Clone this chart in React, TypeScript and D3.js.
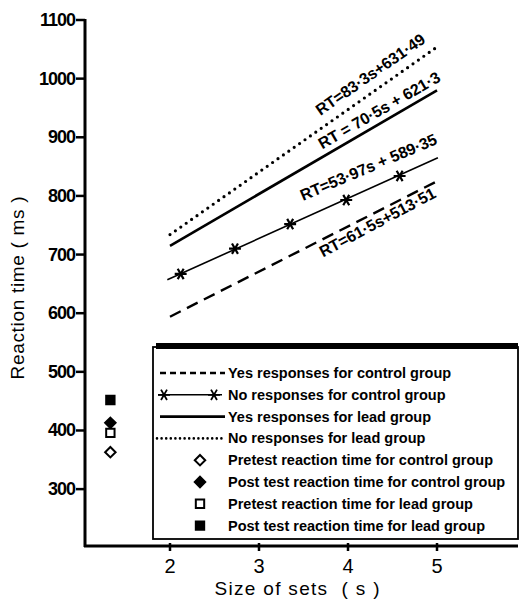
import * as d3 from 'd3';

// values (set size s, reaction time ms)
const xTicks = [2, 3, 4, 5];
const yTicks = [300, 400, 500, 600, 700, 800, 900, 1000, 1100];

const yesControl: [number, number][] = [[2, 594], [5, 825]];
const noControlLine: [number, number][] = [[1.97, 657], [5.01, 865]];
const noControlStars: [number, number][] = [[2.12, 667], [2.73, 710], [3.35, 752], [3.98, 793], [4.58, 834]];
const yesLead: [number, number][] = [[2, 715], [5, 980]];
const noLead: [number, number][] = [[2, 734], [5, 1054]];

const pretestS = 1.33;
const pretestControl = 363;
const posttestControl = 413;
const pretestLead = 396;
const posttestLead = 452;

const equations = [
  { text: 'RT=83·3s+631·49', s: 4.25, rt: 1007, angle: -35 },
  { text: 'RT = 70·5s + 621·3', s: 4.35, rt: 946, angle: -30 },
  { text: 'RT=53·97s + 589·35', s: 4.23, rt: 849, angle: -23 },
  { text: 'RT=61·5s+513·51', s: 4.33, rt: 755, angle: -28 },
];

const legendLabels = [
  'Yes responses for control group',
  'No responses for control group',
  'Yes responses for lead group',
  'No responses for lead group',
  'Pretest reaction time for control group',
  'Post test reaction time for control group',
  'Pretest reaction time for lead group',
  'Post test reaction time for lead group',
];

const FONT = '"Liberation Sans", Arial, sans-serif';

export default function App() {
  const width = 529;
  const height = 600;

  const x = d3.scaleLinear().domain([1.045, 5.91]).range([85, 518]);
  const y = d3.scaleLinear().domain([203, 1100]).range([546, 20]);

  const line = d3
    .line<[number, number]>()
    .x((d) => x(d[0]))
    .y((d) => y(d[1]));

  const star = d3.symbol().type(d3.symbolAsterisk).size(100)();
  const diamond = d3.symbol().type(d3.symbolDiamond2).size(70)();
  const square = d3.symbol().type(d3.symbolSquare).size(70)();

  const legX = 153;
  const legTop = 347;
  const legRight = 518;
  const legBottom = 539;
  const rowY = (i: number) => 373 + i * 21.8;

  const markers = [
    { d: diamond, fill: 'white', v: pretestControl },
    { d: diamond, fill: 'black', v: posttestControl },
    { d: square, fill: 'white', v: pretestLead },
    { d: square, fill: 'black', v: posttestLead },
  ];

  return (
    <svg
      width={width}
      height={height}
      style={{ position: 'absolute', left: 0, top: 0, background: 'white' }}
      fontFamily={FONT}
    >
      {/* regression lines */}
      <path d={line(noLead) || ''} fill="none" stroke="#000" strokeWidth={3.2} strokeDasharray="0 6.6" strokeLinecap="round" />
      <path d={line(yesLead) || ''} fill="none" stroke="#000" strokeWidth={2.6} />
      <path d={line(noControlLine) || ''} fill="none" stroke="#000" strokeWidth={1.6} />
      {noControlStars.map((d, i) => (
        <path key={i} d={star || ''} transform={`translate(${x(d[0])},${y(d[1])}) rotate(90)`} stroke="#000" strokeWidth={2.2} fill="#000" />
      ))}
      <path d={line(yesControl) || ''} fill="none" stroke="#000" strokeWidth={2.4} strokeDasharray="12 7" />

      {/* equations */}
      {equations.map((e, i) => (
        <text
          key={i}
          transform={`translate(${x(e.s)},${y(e.rt)}) rotate(${e.angle})`}
          textAnchor="middle"
          dominantBaseline="central"
          fontSize={16}
          fontWeight="bold"
          letterSpacing={-0.1}
        >
          {e.text}
        </text>
      ))}

      {/* pre/post test markers */}
      {markers.map((m, i) => (
        <path key={i} d={m.d || ''} transform={`translate(${x(pretestS)},${y(m.v)})`} fill={m.fill} stroke="#000" strokeWidth={2} />
      ))}

      {/* legend */}
      <rect x={legX} y={legTop} width={legRight - legX} height={legBottom - legTop} fill="white" stroke="#000" strokeWidth={1.8} />
      <line x1={legX + 3} x2={legRight} y1={346} y2={346} stroke="#000" strokeWidth={6} />
      <line x1={160} x2={225} y1={rowY(0)} y2={rowY(0)} stroke="#000" strokeWidth={2.4} strokeDasharray="6 4" />
      <line x1={158} x2={222} y1={rowY(1)} y2={rowY(1)} stroke="#000" strokeWidth={1.6} />
      <path d={star || ''} transform={`translate(164,${rowY(1)}) rotate(90)`} stroke="#000" strokeWidth={1.8} />
      <path d={star || ''} transform={`translate(214,${rowY(1)}) rotate(90)`} stroke="#000" strokeWidth={1.8} />
      <line x1={160} x2={225} y1={rowY(2)} y2={rowY(2)} stroke="#000" strokeWidth={2.6} />
      <line x1={157} x2={225} y1={rowY(3)} y2={rowY(3)} stroke="#000" strokeWidth={2.6} strokeDasharray="0 4.6" strokeLinecap="round" />
      {markers.map((m, i) => (
        <path key={i} d={m.d || ''} transform={`translate(200,${rowY(4 + i)})`} fill={m.fill} stroke="#000" strokeWidth={2} />
      ))}
      {legendLabels.map((t, i) => (
        <text key={i} x={228} y={rowY(i)} dominantBaseline="central" fontSize={14.5} fontWeight="bold" letterSpacing={0}>
          {t}
        </text>
      ))}

      {/* axes */}
      <line x1={85} x2={85} y1={19} y2={547} stroke="#000" strokeWidth={3} />
      <line x1={84} x2={518} y1={546} y2={546} stroke="#000" strokeWidth={3} />
      {yTicks.map((t) => (
        <g key={t} transform={`translate(0,${y(t)})`}>
          <line x1={76} x2={85} stroke="#000" strokeWidth={2.5} />
          <text x={75} textAnchor="end" dominantBaseline="central" fontSize={18} fontWeight="bold" letterSpacing={-1}>
            {t}
          </text>
        </g>
      ))}
      {xTicks.map((t) => (
        <g key={t} transform={`translate(${x(t)},0)`}>
          <line y1={543} y2={551} stroke="#000" strokeWidth={2.5} />
          <text y={566} textAnchor="middle" dominantBaseline="central" fontSize={20}>
            {t}
          </text>
        </g>
      ))}
      <text x={297} y={588} textAnchor="middle" dominantBaseline="central" fontSize={19} textLength={165} lengthAdjust="spacing">
        {'Size of sets\u00a0\u00a0( s )'}
      </text>
      <text transform="translate(17,288) rotate(-90)" textAnchor="middle" dominantBaseline="central" fontSize={19} textLength={183} lengthAdjust="spacing">
        Reaction time ( ms )
      </text>
    </svg>
  );
}
